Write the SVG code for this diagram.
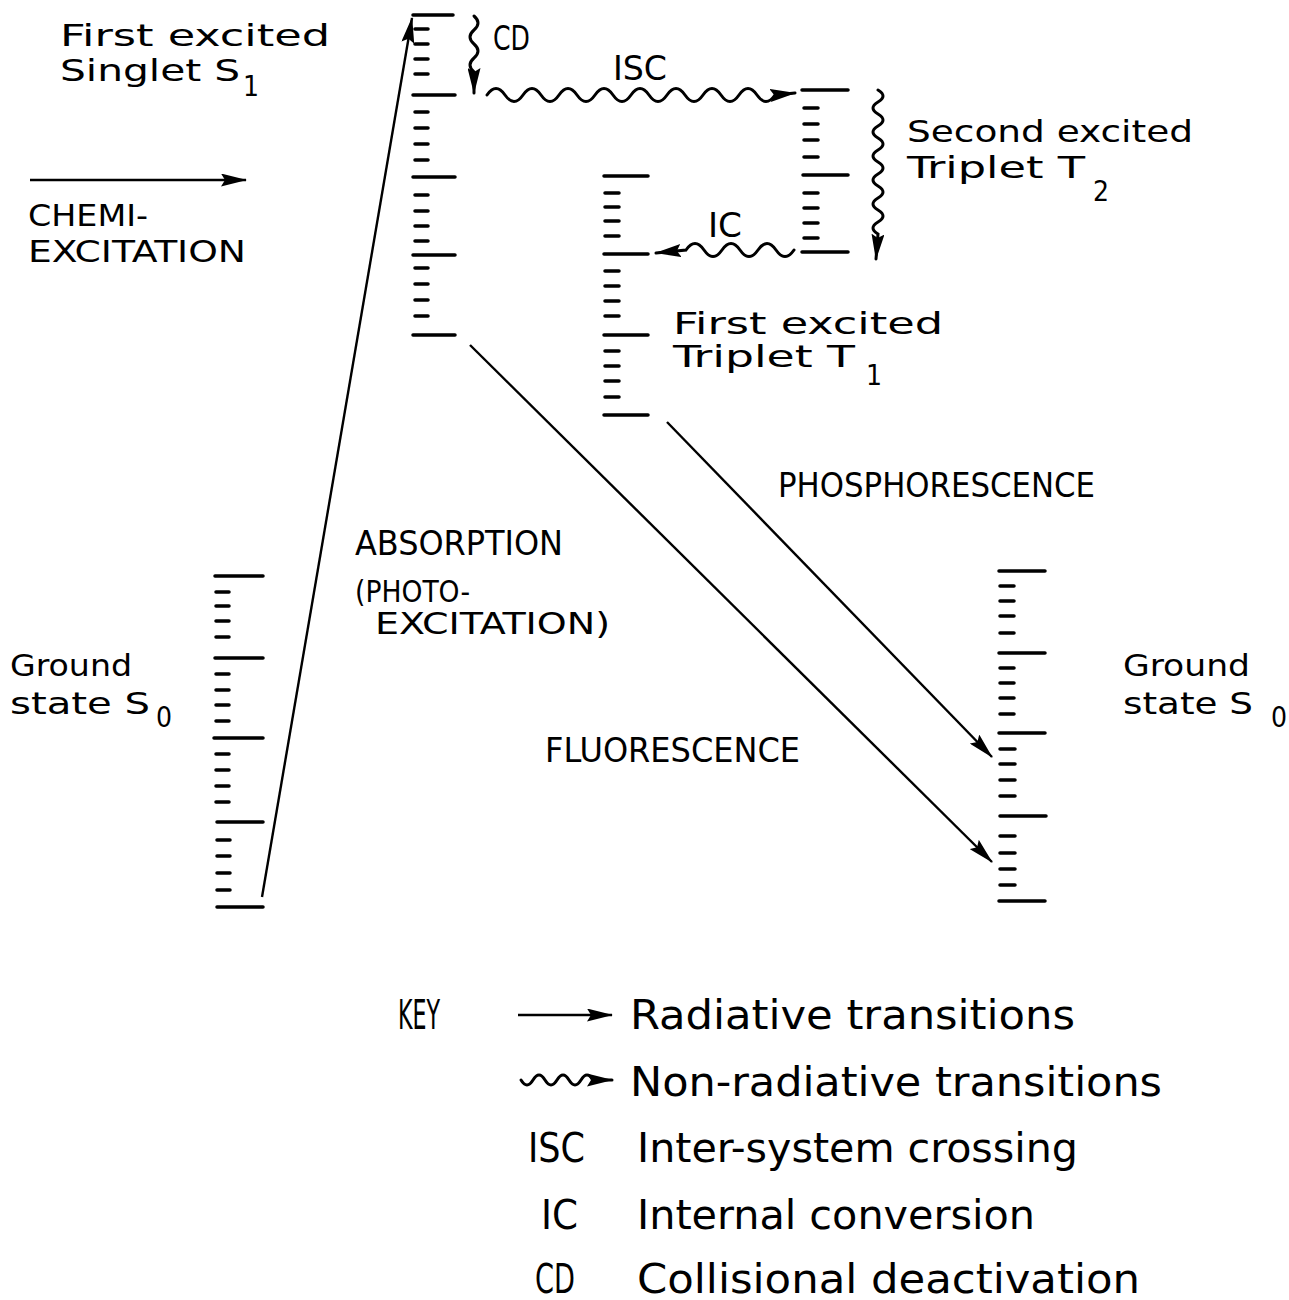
<svg xmlns="http://www.w3.org/2000/svg" width="1289" height="1300" viewBox="0 0 1289 1300">
<style>
text{font-family:"DejaVu Sans Condensed","Liberation Sans Narrow","Liberation Sans",sans-serif;font-size:34px;fill:#000}
.t{font-size:31px}
.k{font-size:40px}
.sub{font-size:28px}
.lv{stroke:#000;stroke-width:3.5;fill:none;stroke-linecap:round}
.ar{stroke:#000;stroke-width:2.4;fill:none}
.wv{stroke:#000;stroke-width:3;fill:none;stroke-linecap:round}
</style>
<defs>
<marker id="ah" markerUnits="userSpaceOnUse" markerWidth="26" markerHeight="13" viewBox="0 0 26 13" refX="25" refY="6.5" orient="auto">
<path d="M0,0 L26,6.5 L0,13 L4,6.5 z" fill="#000"/>
</marker>
</defs>
<rect width="1289" height="1300" fill="#fff"/>
<g id="S1-ladder" class="lv">
<path d="M413,15H453M413,95H455M413,177H455M413,255H455M413,335H455"/>
<path d="M415,29H428M415,44H428M415,59H428M415,74H428M415,112H428M415,128H428M415,144H428M415,160H428M415,195H428M415,211H428M415,226H428M415,241H428M415,268H428M415,284H428M415,300H428M415,316H428"/>
</g>
<g id="T2-ladder" class="lv">
<path d="M802,90H848M803,175H848M802,252H848"/>
<path d="M804,108H818M804,124H818M804,140H818M804,157H818M804,193H818M804,208H818M804,223H818M804,238H818"/>
</g>
<g id="T1-ladder" class="lv">
<path d="M604,176H648M604,254H648M604,335H648M604,415H648"/>
<path d="M605,193H619M605,207H619M605,221H619M605,236H619M605,271H619M605,286H619M605,301H619M605,316H619M605,351H619M605,366H619M605,381H619M605,397H619"/>
</g>
<g id="S0-left-ladder" class="lv">
<path d="M215,576H263M215,658H263M214,738H263M217,822H263M217,907H263"/>
<path d="M216,592H229M216,606H229M216,621H229M216,637H229M216,674H229M216,690H229M216,705H229M216,721H229M216,754H229M216,770H229M216,786H229M216,802H229M217,840H230M217,856H230M217,873H230M217,890H230"/>
</g>
<g id="S0-right-ladder" class="lv">
<path d="M999,571H1045M999,653H1045M999,733H1045M1000,816H1046M999,901H1045"/>
<path d="M1000,586H1014M1000,601H1014M1000,616H1014M1000,633H1014M1000,668H1014M1000,683H1014M1000,698H1014M1000,714H1014M1000,749H1015M1000,764H1015M1000,780H1015M1000,796H1015M1000,836H1015M1000,853H1015M1000,869H1015M1000,885H1015"/>
</g>
<g id="connectors">
<line class="ar" x1="262" y1="897" x2="412" y2="18" marker-end="url(#ah)"/>
<line class="ar" x1="470" y1="345" x2="992" y2="862" marker-end="url(#ah)"/>
<line class="ar" x1="667" y1="422" x2="992" y2="757" marker-end="url(#ah)"/>
<line class="ar" x1="30" y1="180" x2="246" y2="180" marker-end="url(#ah)"/>
<path class="wv" d="M474,16 q8,7 0,14 q-8,7 0,14 q8,7 0,14 q-8,7 0,14 L474,93" marker-end="url(#ah)"/>
<path class="wv" d="M487,95 q9,-13 18,0 q9,13 18,0 q9,-13 18,0 q9,13 18,0 q9,-13 18,0 q9,13 18,0 q9,-13 18,0 q9,13 18,0 q9,-13 18,0 q9,13 18,0 q9,-13 18,0 q9,13 18,0 q9,-13 18,0 q9,13 18,0 q9,-13 18,0 q9,13 18,0 L795,93" marker-end="url(#ah)"/>
<path class="wv" d="M878,90 q10,6 0,12 q-10,6 0,12 q10,6 0,12 q-10,6 0,12 q10,6 0,12 q-10,6 0,12 q10,6 0,12 q-10,6 0,12 q10,6 0,12 q-10,6 0,12 q10,6 0,12 q-10,6 0,12 L876,259" marker-end="url(#ah)"/>
<path class="wv" d="M794,250 q-9,13 -18,0 q-9,-13 -18,0 q-9,13 -18,0 q-9,-13 -18,0 q-9,13 -18,0 q-9,-13 -18,0 L656,253" marker-end="url(#ah)"/>
<line class="ar" x1="518" y1="1015" x2="612" y2="1015" marker-end="url(#ah)"/>
<path class="wv" d="M521,1080 q6,10 12,0 q6,-10 12,0 q6,10 12,0 q6,-10 12,0 q6,10 12,0 q6,-10 12,0 L612,1080" marker-end="url(#ah)"/>
</g>
<g id="labels">
<text class="t" x="60" y="46" textLength="270" lengthAdjust="spacingAndGlyphs">First excited</text>
<text class="t" x="60" y="81" textLength="180" lengthAdjust="spacingAndGlyphs">Singlet S</text>
<text class="sub" x="243" y="96">1</text>
<text class="t" x="28" y="226" textLength="120" lengthAdjust="spacingAndGlyphs">CHEMI-</text>
<text class="t" x="28" y="262" textLength="218" lengthAdjust="spacingAndGlyphs">EXCITATION</text>
<text x="493" y="50" textLength="37" lengthAdjust="spacingAndGlyphs">CD</text>
<text x="613" y="80" textLength="54" lengthAdjust="spacingAndGlyphs">ISC</text>
<text class="t" x="907" y="142" textLength="286" lengthAdjust="spacingAndGlyphs">Second excited</text>
<text class="t" x="907" y="178" textLength="178" lengthAdjust="spacingAndGlyphs">Triplet T</text>
<text class="sub" x="1093" y="201">2</text>
<text x="708" y="237" textLength="34" lengthAdjust="spacingAndGlyphs">IC</text>
<text class="t" x="673" y="334" textLength="270" lengthAdjust="spacingAndGlyphs">First excited</text>
<text class="t" x="673" y="367" textLength="182" lengthAdjust="spacingAndGlyphs">Triplet T</text>
<text class="sub" x="866" y="385">1</text>
<text x="778" y="497" textLength="317" lengthAdjust="spacingAndGlyphs">PHOSPHORESCENCE</text>
<text x="355" y="555" textLength="208" lengthAdjust="spacingAndGlyphs">ABSORPTION</text>
<text class="t" x="355" y="602" textLength="115" lengthAdjust="spacingAndGlyphs">(PHOTO-</text>
<text class="t" x="375" y="634" textLength="235" lengthAdjust="spacingAndGlyphs">EXCITATION)</text>
<text x="545" y="762" textLength="255" lengthAdjust="spacingAndGlyphs">FLUORESCENCE</text>
<text class="t" x="10" y="676" textLength="122" lengthAdjust="spacingAndGlyphs">Ground</text>
<text class="t" x="10" y="714" textLength="140" lengthAdjust="spacingAndGlyphs">state S</text>
<text class="sub" x="156" y="727">0</text>
<text class="t" x="1123" y="676" textLength="127" lengthAdjust="spacingAndGlyphs">Ground</text>
<text class="t" x="1123" y="714" textLength="130" lengthAdjust="spacingAndGlyphs">state S</text>
<text class="sub" x="1271" y="727">0</text>
</g>
<g id="key">
<text class="k" x="398" y="1029" textLength="42" lengthAdjust="spacingAndGlyphs">KEY</text>
<text class="k" x="630" y="1029" textLength="445" lengthAdjust="spacingAndGlyphs">Radiative transitions</text>
<text class="k" x="630" y="1096" textLength="532" lengthAdjust="spacingAndGlyphs">Non-radiative transitions</text>
<text class="k" x="528" y="1162" textLength="57" lengthAdjust="spacingAndGlyphs">ISC</text>
<text class="k" x="637" y="1162" textLength="441" lengthAdjust="spacingAndGlyphs">Inter-system crossing</text>
<text class="k" x="541" y="1229" textLength="37" lengthAdjust="spacingAndGlyphs">IC</text>
<text class="k" x="637" y="1229" textLength="398" lengthAdjust="spacingAndGlyphs">Internal conversion</text>
<text class="k" x="535" y="1293" textLength="40" lengthAdjust="spacingAndGlyphs">CD</text>
<text class="k" x="637" y="1293" textLength="503" lengthAdjust="spacingAndGlyphs">Collisional deactivation</text>
</g>
</svg>
